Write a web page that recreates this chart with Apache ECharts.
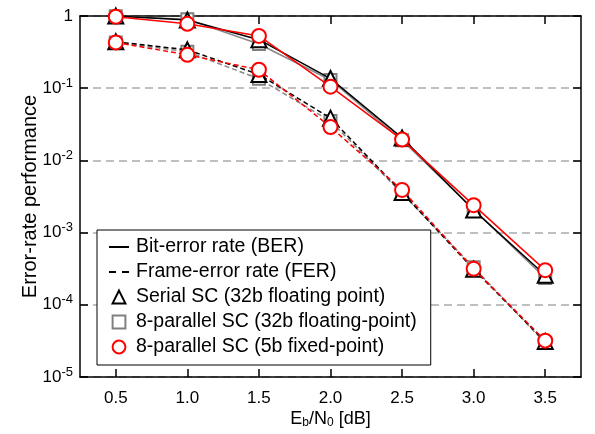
<!DOCTYPE html>
<html>
<head>
<meta charset="utf-8">
<script src="https://cdn.jsdelivr.net/npm/echarts@6/dist/echarts.min.js"></script>
<style>html,body{margin:0;padding:0;background:#fff;}#c{width:595px;height:434px;}</style>
</head>
<body>
<div id="c"></div>
<script>
var categories = ['0.5', '1.0', '1.5', '2.0', '2.5', '3.0', '3.5'];
var berSerial = [1.0, 0.88, 0.47, 0.136, 0.0205, 0.00205, 0.000257];
var berPar32  = [0.99, 0.90, 0.41, 0.13, 0.019, 0.0021, 0.000235];
var berPar5   = [0.98, 0.78, 0.53, 0.105, 0.0194, 0.0024, 0.000302];
var ferSerial = [0.44, 0.34, 0.155, 0.0385, 0.0036, 0.00031, 0.000031];
var ferPar32  = [0.43, 0.32, 0.135, 0.035, 0.0035, 0.00033, 0.0000295];
var ferPar5   = [0.43, 0.29, 0.18, 0.029, 0.0039, 0.000315, 0.0000319];
var legendNames = ['Bit-error rate (BER)', 'Frame-error rate (FER)', 'Serial SC (32b floating point)', '8-parallel SC (32b floating-point)', '8-parallel SC (5b fixed-point)'];

var FONT = 'Liberation Sans, Arial, sans-serif';
var chart = echarts.init(document.getElementById('c'), null, {renderer: 'canvas'});

var symSerial = {symbol: 'triangle', symbolSize: 15, itemStyle: {color: '#fff', borderColor: '#000', borderWidth: 2}};
var symPar32 = {symbol: 'rect', symbolSize: 12, itemStyle: {color: '#fff', borderColor: '#808080', borderWidth: 2}};
var symPar5 = {symbol: 'circle', symbolSize: 14, itemStyle: {color: '#fff', borderColor: '#ff0000', borderWidth: 2}};

function dataSeries(id, data, sym, lineColor, dashed, z) {
  return {
    id: id, name: id, type: 'line', data: data, clip: false, z: z,
    symbol: sym.symbol, symbolSize: sym.symbolSize, itemStyle: sym.itemStyle,
    lineStyle: {color: lineColor, width: 1.5, type: dashed ? [5, 3] : 'solid'},
    emphasis: {disabled: true}, animation: false
  };
}
function dummy(name, sym) {
  return {name: name, type: 'line', data: [], symbol: sym};
}

var option = {
  animation: false,
  grid: {left: 80, right: 14, top: 16, bottom: 54},
  legend: {
    orient: 'vertical', left: 97, top: 230,
    backgroundColor: '#fff', borderColor: '#000', borderWidth: 1, borderRadius: 0,
    padding: [7, 14, 8, 11], itemGap: 5, itemWidth: 20, itemHeight: 16,
    selectedMode: false,
    textStyle: {fontSize: 19.5, color: '#000', fontFamily: FONT, padding: [0, 0, 0, 2]},
    data: [
      {name: legendNames[0], lineStyle: {color: '#000', width: 2, type: 'solid'}, itemStyle: {opacity: 0}},
      {name: legendNames[1], lineStyle: {color: '#000', width: 2, type: [7, 6]}, itemStyle: {opacity: 0}},
      {name: legendNames[2], lineStyle: {opacity: 0, width: 0}, itemStyle: {color: '#fff', borderColor: '#000', borderWidth: 2}},
      {name: legendNames[3], lineStyle: {opacity: 0, width: 0}, itemStyle: {color: '#fff', borderColor: '#808080', borderWidth: 2}},
      {name: legendNames[4], lineStyle: {opacity: 0, width: 0}, itemStyle: {color: '#fff', borderColor: '#ff0000', borderWidth: 2}}
    ]
  },
  xAxis: [{
    type: 'category', data: categories, boundaryGap: true, position: 'bottom',
    axisLine: {show: true, lineStyle: {color: '#000', width: 1.5}},
    axisTick: {show: true, inside: true, alignWithLabel: true, length: 8, lineStyle: {color: '#000', width: 1.5}},
    axisLabel: {fontSize: 17, color: '#000', fontFamily: FONT, margin: 13},
    splitLine: {show: false},
    name: 'E{sub|b}/N{sub|0} [dB]', nameLocation: 'middle', nameGap: 32, nameMoveOverlap: false,
    nameTextStyle: {fontSize: 18, color: '#000', fontFamily: FONT, rich: {sub: {fontSize: 12, verticalAlign: 'bottom', padding: [8, 0, 0, 0]}}}
  }, {
    type: 'category', data: categories, boundaryGap: true, position: 'top',
    axisLine: {show: true, lineStyle: {color: '#000', width: 1.5}},
    axisTick: {show: true, inside: true, alignWithLabel: true, length: 8, lineStyle: {color: '#000', width: 1.5}},
    axisLabel: {show: false}, splitLine: {show: false}
  }],
  yAxis: [{
    type: 'log', logBase: 10, min: 1e-5, max: 1, position: 'left',
    axisLine: {show: true, lineStyle: {color: '#000', width: 1.5}},
    axisTick: {show: true, inside: true, length: 8, lineStyle: {color: '#000', width: 1.5}},
    minorTick: {show: false},
    splitLine: {show: true, lineStyle: {color: '#aaaaaa', width: 1.5, type: [8, 5]}},
    axisLabel: {
      fontSize: 17, color: '#000', fontFamily: FONT, margin: 7,
      formatter: function (v) {
        var e = Math.round(Math.log10(v));
        if (e === 0) return '1';
        return '10{sup|' + e + '}';
      },
      rich: {sup: {fontSize: 13, fontFamily: FONT, color: '#000', padding: [0, 0, 10, 0]}}
    },
    name: 'Error-rate performance', nameLocation: 'middle', nameGap: 40, nameMoveOverlap: false,
    nameTextStyle: {fontSize: 20, color: '#000', fontFamily: FONT}
  }, {
    type: 'log', logBase: 10, min: 1e-5, max: 1, position: 'right',
    axisLine: {show: true, lineStyle: {color: '#000', width: 1.5}},
    axisTick: {show: true, inside: true, length: 8, lineStyle: {color: '#000', width: 1.5}},
    axisLabel: {show: false}, splitLine: {show: false}
  }],
  series: [
    dataSeries('berPar32', berPar32, symPar32, '#888888', false, 2),
    dataSeries('ferPar32', ferPar32, symPar32, '#888888', true, 2),
    dataSeries('berSerial', berSerial, symSerial, '#000000', false, 3),
    dataSeries('ferSerial', ferSerial, symSerial, '#000000', true, 3),
    dataSeries('berPar5', berPar5, symPar5, '#ff0000', false, 4),
    dataSeries('ferPar5', ferPar5, symPar5, '#ff0000', true, 4),
    dummy(legendNames[0], 'none'), dummy(legendNames[1], 'none'),
    dummy(legendNames[2], 'triangle'), dummy(legendNames[3], 'rect'), dummy(legendNames[4], 'circle')
  ]
};
chart.setOption(option);
</script>
</body>
</html>
